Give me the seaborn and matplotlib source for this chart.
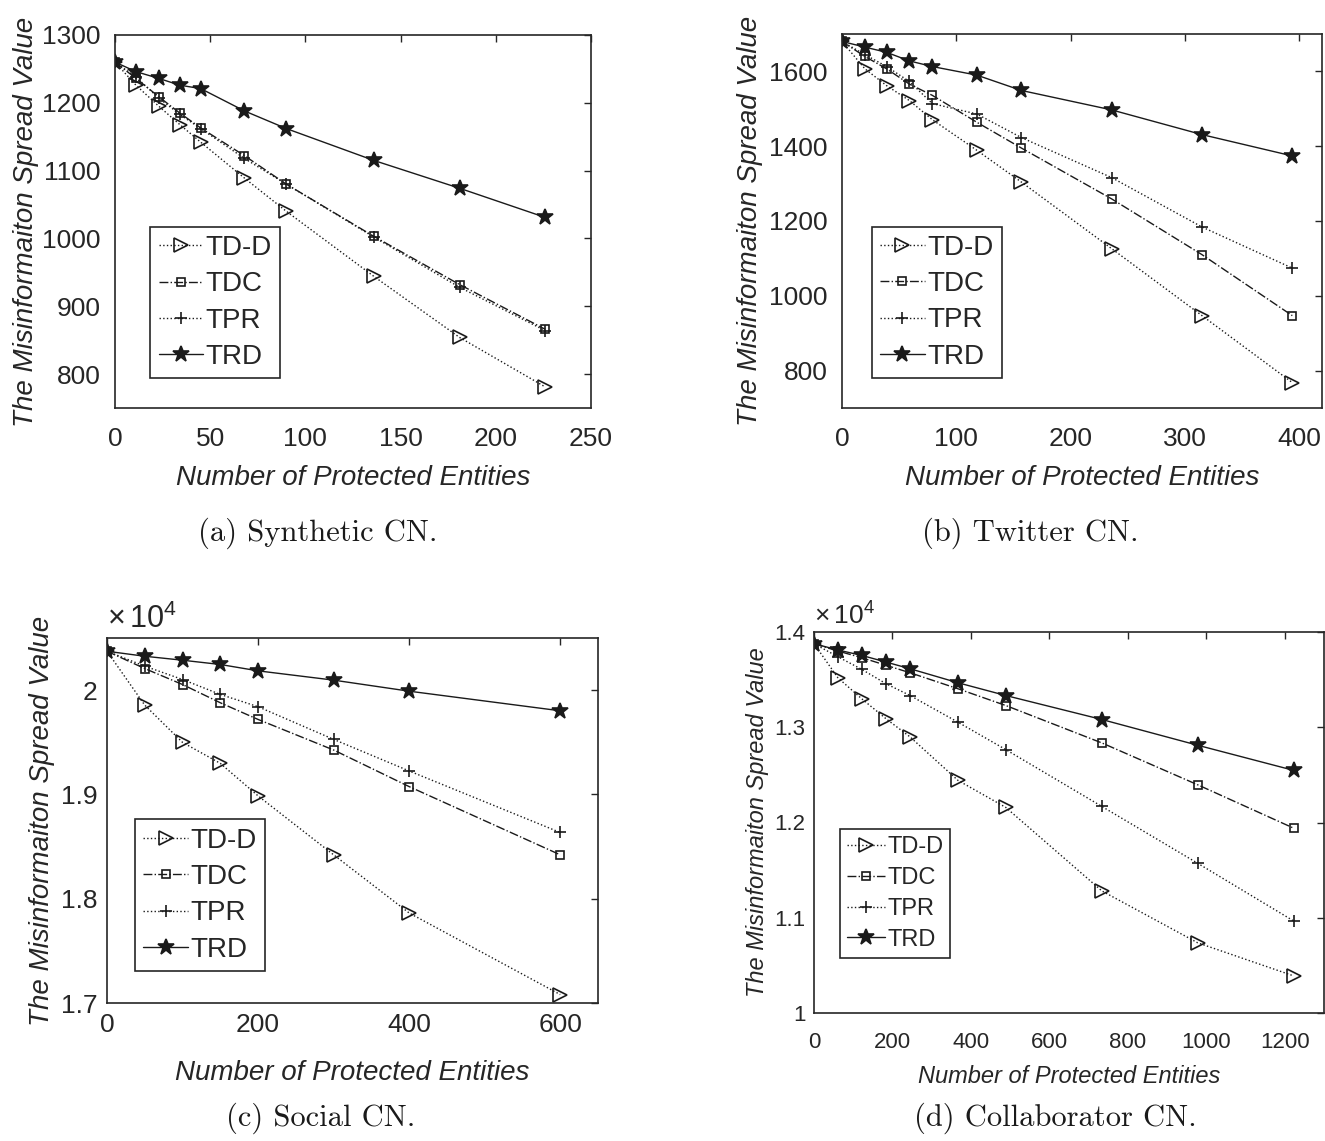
import matplotlib
matplotlib.use('Agg')
import matplotlib.pyplot as plt
import seaborn as sns
from matplotlib.ticker import FuncFormatter

sns.set_theme(style='white')
plt.rcParams['font.family'] = ['Liberation Sans', 'DejaVu Sans']
plt.rcParams['mathtext.fontset'] = 'custom'
plt.rcParams['mathtext.rm'] = 'Liberation Sans'

# (a) Synthetic CN
syn_x = [0, 11, 23, 34, 45, 68, 90, 136, 181, 226]
syn_tdd = [1260, 1226, 1195, 1168, 1142, 1089, 1040, 944, 854, 781]
syn_tdc = [1260, 1236, 1209, 1185, 1163, 1122, 1080, 1003, 932, 866]
syn_tpr = [1260, 1238, 1207, 1183, 1162, 1118, 1080, 1002, 928, 864]
syn_trd = [1260, 1246, 1236, 1226, 1221, 1188, 1162, 1115, 1074, 1031]

# (b) Twitter CN
tw_x = [0, 20, 39, 59, 79, 118, 157, 236, 315, 394]
tw_tdd = [1680, 1607, 1562, 1522, 1471, 1389, 1304, 1126, 947, 768]
tw_tdc = [1680, 1640, 1607, 1566, 1536, 1464, 1395, 1259, 1110, 947]
tw_tpr = [1680, 1645, 1613, 1573, 1514, 1486, 1423, 1316, 1184, 1074]
tw_trd = [1680, 1665, 1651, 1628, 1613, 1590, 1549, 1497, 1431, 1374]

# (c) Social CN
so_x = [0, 50, 100, 150, 200, 300, 400, 600]
so_tdd = [20373, 19856, 19499, 19298, 18986, 18421, 17863, 17081]
so_tdc = [20373, 20207, 20054, 19879, 19719, 19426, 19075, 18421]
so_tpr = [20373, 20230, 20102, 19959, 19841, 19528, 19225, 18635]
so_trd = [20373, 20325, 20287, 20246, 20185, 20096, 19990, 19802]

# (d) Collaborator CN
co_x = [0, 61, 122, 184, 245, 367, 489, 734, 978, 1223]
co_tdd = [13877, 13519, 13298, 13088, 12898, 12442, 12158, 11281, 10737, 10389]
co_tdc = [13877, 13800, 13730, 13650, 13572, 13404, 13228, 12835, 12396, 11940]
co_tpr = [13877, 13740, 13607, 13456, 13333, 13053, 12765, 12168, 11572, 10965]
co_trd = [13877, 13811, 13754, 13684, 13614, 13467, 13333, 13081, 12811, 12547]

methods = ['TD-D', 'TDC', 'TPR', 'TRD']
styles = {
    'TD-D': dict(marker='>', linestyle=':', markersize=9.5, markerfacecolor='none'),
    'TDC': dict(marker='s', linestyle='-.', markersize=5.5, markerfacecolor='none'),
    'TPR': dict(marker='+', linestyle=':', markersize=8, markerfacecolor='none'),
    'TRD': dict(marker='*', linestyle='-', markersize=12, markerfacecolor='k'),
}
gray = '#262626'
W, H = 1325, 1141

fig = plt.figure(figsize=(W / 100, H / 100), dpi=100)


def make_axes(l, t, r, b):
    return fig.add_axes([l / W, 1 - b / H, (r - l) / W, (b - t) / H])


def draw(ax, x, series, xlim, xticks, ylim, yticks, leg_xy, fs=19, scaled=False,
         xpad=7, ypad=7, xlp=6, ylp=4):
    for name, ys in zip(methods, series):
        sns.lineplot(x=x, y=ys, ax=ax, color='k', label=name, lw=1.0,
                     markeredgecolor='k', markeredgewidth=1.2, **styles[name])
    ax.set_xlim(*xlim)
    ax.set_ylim(*ylim)
    ax.set_xticks(xticks)
    ax.set_yticks(yticks)
    if scaled:
        ax.yaxis.set_major_formatter(FuncFormatter(lambda v, _: f'{v / 1e4:g}'))
        ax.text(0, 1.008, r'$\times\,10^{4}$', transform=ax.transAxes, ha='left',
                va='bottom', fontsize=fs + 3, color=gray)
    ax.tick_params(direction='in', top=True, right=True, length=5, width=1,
                   labelsize=fs, colors=gray)
    ax.tick_params(axis='x', pad=xpad)
    ax.tick_params(axis='y', pad=ypad)
    for s in ax.spines.values():
        s.set_color(gray)
        s.set_linewidth(1.2)
    ax.set_xlabel('Number of Protected Entities', fontsize=fs + 1, style='italic',
                  color=gray, labelpad=xlp)
    ax.set_ylabel('The Misinformaiton Spread Value', fontsize=fs + 1, style='italic',
                  color=gray, labelpad=ylp)
    leg = ax.legend(loc='lower left', bbox_to_anchor=leg_xy, fontsize=fs + 1, frameon=True,
                    fancybox=False, edgecolor=gray, framealpha=1, handlelength=1.6,
                    handletextpad=0.1, borderpad=0.3, labelspacing=0.37, borderaxespad=0)
    leg.get_frame().set_linewidth(1.2)


ax_a = make_axes(115, 35, 591, 408)
draw(ax_a, syn_x, [syn_tdd, syn_tdc, syn_tpr, syn_trd], (0, 250), range(0, 251, 50),
     (750, 1300), range(800, 1301, 100), (0.074, 0.08),
     xpad=13.5, ypad=10.5, xlp=10, ylp=2)

ax_b = make_axes(842, 34, 1322, 408)
draw(ax_b, tw_x, [tw_tdd, tw_tdc, tw_tpr, tw_trd], (0, 420), range(0, 401, 100),
     (700, 1700), range(800, 1601, 200), (0.062, 0.08),
     xpad=13.5, ypad=10.5, xlp=10, ylp=4)

ax_c = make_axes(107, 638, 598, 1003)
draw(ax_c, so_x, [so_tdd, so_tdc, so_tpr, so_trd], (0, 650), range(0, 601, 200),
     (17000, 20500), [17000, 18000, 19000, 20000], (0.057, 0.088), scaled=True,
     xpad=7, ypad=7, xlp=17, ylp=4)

ax_d = make_axes(814, 632, 1324, 1013)
draw(ax_d, co_x, [co_tdd, co_tdc, co_tpr, co_trd], (0, 1300), range(0, 1201, 200),
     (10000, 14000), [10000, 11000, 12000, 13000, 14000], (0.051, 0.145), fs=16, scaled=True,
     xpad=13.5, ypad=6, xlp=9, ylp=4)

captions = [('(a) Synthetic CN.', 318, 533), ('(b) Twitter CN.', 1030, 533),
            ('(c) Social CN.', 321, 1118), ('(d) Collaborator CN.', 1055, 1118)]
for txt, cx, cy in captions:
    fig.text(cx / W, 1 - cy / H, txt, ha='center', va='center', fontsize=22,
             family='cmr10', color='#1a1a1a')

fig.savefig('out.png', dpi=100, facecolor='white')
